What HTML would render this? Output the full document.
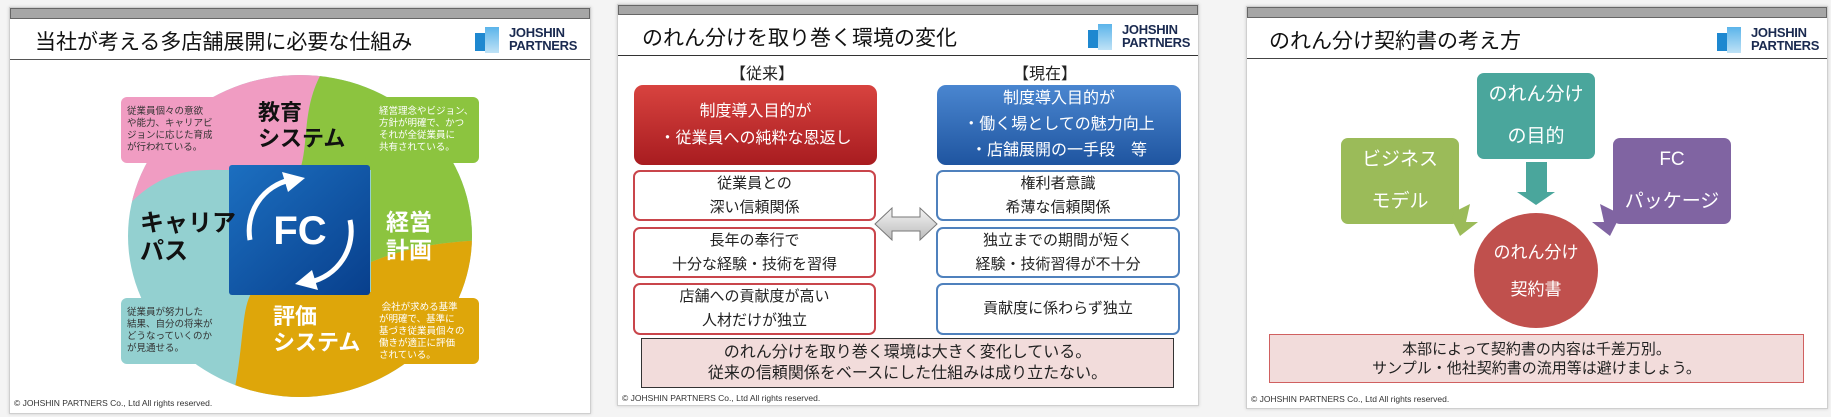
<!DOCTYPE html>
<html><head><meta charset="utf-8"><style>
body{margin:0;width:1831px;height:417px;background:#f4f4f4;position:relative;overflow:hidden;font-family:"Liberation Sans","Noto Sans CJK JP",sans-serif;}
.a{position:absolute;}
.panel{position:absolute;background:#fff;border:1px solid #cfcfcf;box-shadow:0 0 3px #ccc;}
.bar{position:absolute;left:0;right:0;top:0;height:10px;background:#a6a6a6;border:1px solid #666;box-sizing:border-box;}
.sep{position:absolute;left:0;right:0;height:2px;background:#555;}
.title{position:absolute;font-size:21px;color:#111;white-space:nowrap;}
.logo{position:absolute;width:110px;height:32px;}
.logo .ic1{position:absolute;left:0;top:8px;width:12px;height:18px;background:#1e88d0;}
.logo .ic2{position:absolute;left:10px;top:2px;width:14px;height:26px;background:linear-gradient(#5bb4ea,#bfe2f6);}
.logo .tx{position:absolute;left:34px;top:1px;font-weight:bold;font-size:13px;line-height:13px;color:#1a2a50;letter-spacing:-0.3px;}
.foot{position:absolute;font-size:8.5px;color:#333;white-space:nowrap;}
.bx{position:absolute;box-sizing:border-box;border-radius:7px;background:#fff;text-align:center;font-size:15px;color:#222;display:flex;flex-direction:column;justify-content:center;line-height:24px;}
.sm{position:absolute;font-size:9.5px;line-height:12px;color:#333;}
</style></head><body>

<!-- Panel 1 -->
<div class="panel" style="left:9px;top:7px;width:580px;height:405px;">
 <div class="bar" style="height:11px"></div>
 <div class="title" style="left:25px;top:18px;">当社が考える多店舗展開に必要な仕組み</div>
 <div class="logo" style="left:465px;top:17px"><div class="ic1"></div><div class="ic2"></div><div class="tx">JOHSHIN<br>PARTNERS</div></div>
 <div class="sep" style="top:51px;height:1px"></div>
 <div class="foot" style="left:4px;top:390px">© JOHSHIN PARTNERS Co., Ltd All rights reserved.</div>
</div>
<svg class="a" style="left:0;top:0" width="600" height="417">
 <defs><clipPath id="ce"><ellipse cx="300" cy="236" rx="172" ry="161"/></clipPath>
 <linearGradient id="bl" x1="0" y1="0" x2="1" y2="1"><stop offset="0" stop-color="#1c6fc0"/><stop offset="1" stop-color="#083f8c"/></linearGradient></defs>
 <g clip-path="url(#ce)">
  <rect x="100" y="60" width="400" height="350" fill="#93d0d0"/>
  <path d="M100,60 L330,60 C300,100 310,140 300,170 L230,170 C200,170 160,165 120,215 Z" fill="#f09cc2"/>
  <path d="M330,60 L500,60 L500,240 C440,240 400,250 371,262 L371,170 L300,170 C310,140 300,100 330,60 Z" fill="#8cc43f"/>
  <path d="M500,240 L500,410 L230,410 C245,350 240,310 252,292 L371,292 L371,262 C400,250 440,240 500,240 Z" fill="#dea60a"/>
 </g>
 <rect x="121" y="97" width="118" height="66" rx="6" fill="#f09cc2"/>
 <rect x="365" y="97" width="114" height="66" rx="6" fill="#8cc43f"/>
 <rect x="121" y="298" width="110" height="66" rx="6" fill="#93d0d0"/>
 <rect x="365" y="298" width="114" height="66" rx="6" fill="#dea60a"/>
 <rect x="229" y="165" width="141" height="130" rx="3" fill="url(#bl)"/>
 <path d="M250,240 A52,52 0 0 1 290,180" stroke="#fff" stroke-width="5" fill="none"/>
 <path d="M282,172 L305,178 L288,192 Z" fill="#fff"/>
 <path d="M350,220 A52,52 0 0 1 310,282" stroke="#fff" stroke-width="5" fill="none"/>
 <path d="M318,290 L295,284 L312,270 Z" fill="#fff"/>
 <text x="300" y="244" text-anchor="middle" font-family="Liberation Sans" font-weight="bold" font-size="40" fill="#fff">FC</text>
</svg>
<div class="a" style="left:258px;top:100px;font-size:22px;line-height:26px;font-weight:bold;color:#111">教育<br>システム</div>
<div class="a" style="left:140px;top:210px;font-size:24px;line-height:28px;font-weight:bold;color:#111">キャリア<br>パス</div>
<div class="a" style="left:386px;top:208px;font-size:23px;line-height:28px;font-weight:bold;color:#fff">経営<br>計画</div>
<div class="a" style="left:273px;top:304px;font-size:22px;line-height:26px;font-weight:bold;color:#fff">評価<br>システム</div>
<div class="sm" style="left:127px;top:106px">従業員個々の意欲<br>や能力、キャリアビ<br>ジョンに応じた育成<br>が行われている。</div>
<div class="sm" style="left:379px;top:106px;color:#fff">経営理念やビジョン、<br>方針が明確で、かつ<br>それが全従業員に<br>共有されている。</div>
<div class="sm" style="left:127px;top:307px">従業員が努力した<br>結果、自分の将来が<br>どうなっていくのか<br>が見通せる。</div>
<div class="sm" style="left:379px;top:302px;color:#fff">&nbsp;会社が求める基準<br>が明確で、基準に<br>基づき従業員個々の<br>働きが適正に評価<br>されている。</div>

<!-- Panel 2 -->
<div class="panel" style="left:617px;top:4px;width:580px;height:400px;">
 <div class="bar"></div>
 <div class="title" style="left:24px;top:17px;">のれん分けを取り巻く環境の変化</div>
 <div class="logo" style="left:470px;top:17px"><div class="ic1"></div><div class="ic2"></div><div class="tx">JOHSHIN<br>PARTNERS</div></div>
 <div class="sep" style="top:50px;height:1px;background:#333"></div>
 <div class="foot" style="left:4px;top:388px">© JOHSHIN PARTNERS Co., Ltd All rights reserved.</div>
</div>
<div class="a" style="left:730px;top:60px;font-size:16px;color:#222">【従来】</div>
<div class="a" style="left:1013px;top:60px;font-size:16px;color:#222">【現在】</div>
<div class="bx" style="left:634px;top:85px;width:243px;height:80px;background:linear-gradient(#d8433f,#a81c20);color:#fff;font-size:16px;line-height:27px;border-radius:9px;">制度導入目的が<br>・従業員への純粋な恩返し</div>
<div class="bx" style="left:937px;top:85px;width:244px;height:80px;background:linear-gradient(#4a86d0,#1f55a0);color:#fff;font-size:16px;line-height:26px;border-radius:9px;">制度導入目的が<br>・働く場としての魅力向上<br>・店舗展開の一手段　等</div>
<div class="bx" style="left:633px;top:170px;width:243px;height:51px;border:2px solid #c9454b">従業員との<br>深い信頼関係</div>
<div class="bx" style="left:633px;top:227px;width:243px;height:51px;border:2px solid #c9454b">長年の奉行で<br>十分な経験・技術を習得</div>
<div class="bx" style="left:633px;top:283px;width:243px;height:52px;border:2px solid #c9454b">店舗への貢献度が高い<br>人材だけが独立</div>
<div class="bx" style="left:936px;top:170px;width:244px;height:51px;border:2px solid #4f81bd">権利者意識<br>希薄な信頼関係</div>
<div class="bx" style="left:936px;top:227px;width:244px;height:51px;border:2px solid #4f81bd">独立までの期間が短く<br>経験・技術習得が不十分</div>
<div class="bx" style="left:936px;top:283px;width:244px;height:52px;border:2px solid #4f81bd">貢献度に係わらず独立</div>
<svg class="a" style="left:872px;top:205px" width="70" height="38"><defs><linearGradient id="ga" x1="0" y1="0" x2="0" y2="1"><stop offset="0" stop-color="#f4f4f4"/><stop offset="1" stop-color="#bbb"/></linearGradient></defs>
<path d="M3,19 L20,3 L20,12 L48,12 L48,3 L65,19 L48,35 L48,26 L20,26 L20,35 Z" fill="url(#ga)" stroke="#777" stroke-width="1"/></svg>
<div class="bx" style="left:641px;top:338px;width:533px;height:50px;background:#f2dcdb;border:1.5px solid #333;border-radius:0;font-size:16px;line-height:21px">のれん分けを取り巻く環境は大きく変化している。<br>従来の信頼関係をベースにした仕組みは成り立たない。</div>

<!-- Panel 3 -->
<div class="panel" style="left:1246px;top:6px;width:580px;height:401px;">
 <div class="bar" style="height:11px"></div>
 <div class="title" style="left:22px;top:18px;">のれん分け契約書の考え方</div>
 <div class="logo" style="left:470px;top:18px"><div class="ic1"></div><div class="ic2"></div><div class="tx">JOHSHIN<br>PARTNERS</div></div>
 <div class="sep" style="top:51px;height:1px;background:#444"></div>
 <div class="foot" style="left:4px;top:387px">© JOHSHIN PARTNERS Co., Ltd All rights reserved.</div>
</div>
<div class="bx" style="left:1477px;top:73px;width:118px;height:86px;background:#4aa69c;color:#fff;font-size:19px;line-height:42px;">のれん分け<br>の目的</div>
<div class="bx" style="left:1341px;top:138px;width:118px;height:86px;background:#9bbb59;color:#fff;font-size:19px;line-height:42px;">ビジネス<br>モデル</div>
<div class="bx" style="left:1613px;top:138px;width:118px;height:86px;background:#8064a2;color:#fff;font-size:19px;line-height:42px;">FC<br>パッケージ</div>
<svg class="a" style="left:1440px;top:158px" width="200" height="90">
 <path d="M86,4 L107,4 L107,34 L115,34 L96,47 L77,34 L86,34 Z" fill="#4aa69c"/>
 <path d="M14,68 L30,60 L26,78 L38,78 L20,92 L12,76 Z" fill="#9bbb59" transform="translate(0,-14)"/>
 <path d="M186,68 L170,60 L174,78 L162,78 L180,92 L188,76 Z" fill="#8064a2" transform="translate(-10,-14)"/>
</svg>
<div class="bx" style="left:1474px;top:213px;width:124px;height:115px;border-radius:50%;background:#c0504d;color:#fff;font-size:17px;line-height:37px;">のれん分け<br>契約書</div>
<div class="bx" style="left:1269px;top:334px;width:535px;height:49px;background:#f2dcdb;border:1.5px solid #d06060;border-radius:0;font-size:15px;line-height:19px">本部によって契約書の内容は千差万別。<br>サンプル・他社契約書の流用等は避けましょう。</div>
</body></html>
